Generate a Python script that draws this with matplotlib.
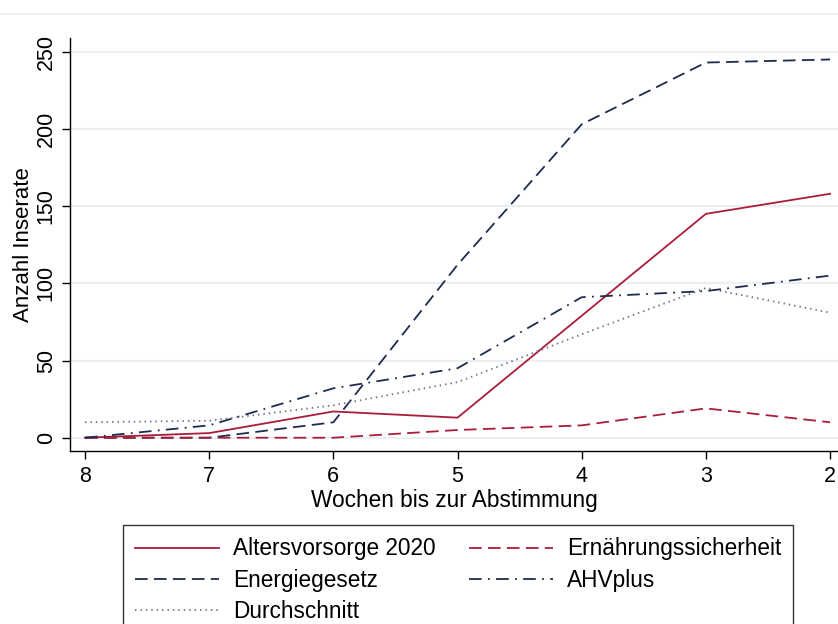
import matplotlib
matplotlib.use("Agg")
import matplotlib.pyplot as plt
from matplotlib.lines import Line2D

plt.rcParams["font.family"] = ["Liberation Sans", "DejaVu Sans"]

weeks = [8, 7, 6, 5, 4, 3, 2]
altersvorsorge = [0, 3, 17, 13, 79, 145, 158]
ernaehrung = [0, 0, 0, 5, 8, 19, 10]
energiegesetz = [0, 0, 10, 112, 203, 243, 245]
ahvplus = [0, 8, 32, 45, 91, 95, 105]
durchschnitt = [10, 11, 21, 36, 67, 97, 81]

RED = "#a91d3a"
NAVY = "#1f2b4e"
GRID = "#eaf0f2"

fig = plt.figure(figsize=(8.38, 6.24), dpi=100)
ax = fig.add_axes([70 / 838, 1 - 451 / 624, 1 - 70 / 838, (451 - 38) / 624])

# light frame line at top of graph region
fig.add_artist(Line2D([0, 1], [1 - 14 / 624] * 2, color=GRID, lw=1.2,
                      transform=fig.transFigure))

lw = 1.3
ax.plot(weeks, altersvorsorge, color=RED, lw=lw, label="Altersvorsorge 2020")
ax.plot(weeks, energiegesetz, color=NAVY, lw=lw, dashes=(7, 3.5),
        label="Energiegesetz")
ax.plot(weeks, durchschnitt, color="#6a7088", lw=lw, dashes=(0.8, 2.2),
        label="Durchschnitt")
ax.plot(weeks, ernaehrung, color=RED, lw=lw, dashes=(7, 3.5),
        label="Ernährungssicherheit")
ax.plot(weeks, ahvplus, color=NAVY, lw=lw, dashes=(7, 3.5, 1, 3.5),
        label="AHVplus")

ax.set_xlim(8.121, 1.936)
ax.set_ylim(-8.6, 258.9)
ax.set_xticks(weeks)
ax.set_yticks([0, 50, 100, 150, 200, 250])
ax.yaxis.grid(True, color=GRID, lw=1.5)
ax.set_axisbelow(True)
for s in ["top", "right"]:
    ax.spines[s].set_visible(False)
for s in ["left", "bottom"]:
    ax.spines[s].set_linewidth(1.0)
ax.tick_params(axis="both", labelsize=15.5, length=6, width=1, pad=5)
ax.tick_params(axis="y", pad=3.5)
for lab in ax.get_yticklabels():
    lab.set_rotation(90)
    lab.set_va("center")
ax.set_xlabel("Wochen bis zur Abstimmung", fontsize=16.3, labelpad=1)
ax.set_ylabel("Anzahl Inserate", fontsize=16, labelpad=1)

leg = fig.legend(ncol=2, loc="upper left",
                 bbox_to_anchor=(123 / 838, 1 - 525 / 624),
                 fontsize=16.3, frameon=True, fancybox=False,
                 edgecolor="black", handlelength=3.7, handletextpad=0.6,
                 columnspacing=1.5, labelspacing=0.36, borderpad=0.55,
                 borderaxespad=0)
leg.get_frame().set_linewidth(1.0)

fig.savefig("out.png", dpi=100)
